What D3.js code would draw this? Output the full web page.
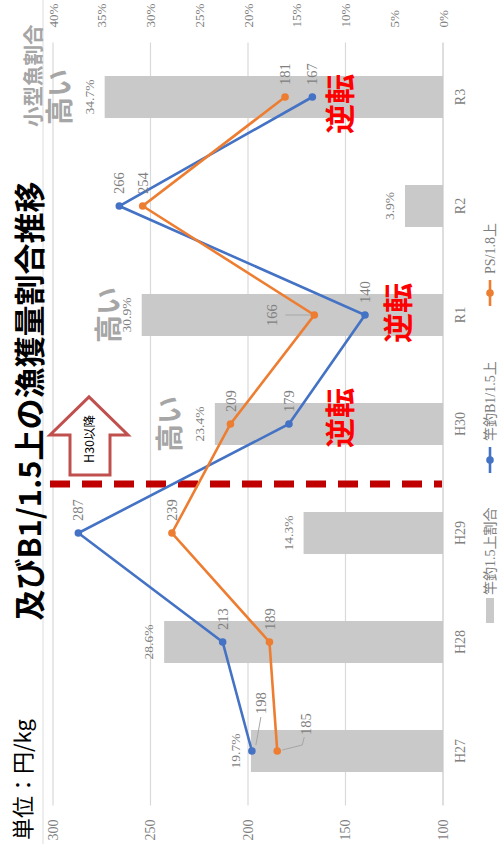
<!DOCTYPE html>
<html><head><meta charset="utf-8">
<script src="https://cdn.jsdelivr.net/npm/d3@7/dist/d3.min.js"></script>
<style>
html,body{margin:0;padding:0;background:#fff;}
svg{display:block;}
</style></head>
<body>
<script>
// ---- data ----
const categories = ["H27","H28","H29","H30","R1","R2","R3"];
const priceB1 = [198,213,287,179,140,266,167];     // 竿釣B1/1.5上 (円/kg)
const pricePS = [185,189,239,209,166,254,181];     // PS/1.8上 (円/kg)
const shareSmall = [19.7,28.6,14.3,23.4,30.9,3.9,34.7]; // 竿釣1.5上割合 (%)
const leftTicks = [100,150,200,250,300];
const rightTicks = [0,5,10,15,20,25,30,35,40];
const seriesNames = ["竿釣1.5上割合","竿釣B1/1.5上","PS/1.8上"];
const title = "及びB1/1.5上の漁獲量割合推移";
const unitLabel = "単位：円/kg";
const rightTitle = "小型魚割合";
const highCats = ["R3","R1","H30"];
const reverseCats = ["R3","R1","H30"];
const arrowText = "H30以降";

// ---- layout (landscape, then rotated) ----
const W = 854, H = 502;
const SERIF = "'Liberation Serif','Noto Sans CJK JP',serif";
const SANS = "'Noto Sans CJK JP','Noto Sans',sans-serif";
const BLUE = "#4472c4", ORANGE = "#ed7d31", BAR = "#c9c9c9", GRID = "#d9d9d9", TXT = "#7f7f7f";

const svg = d3.select("body").append("svg").attr("width",502).attr("height",854);
const g = svg.append("g").attr("transform",`translate(0,${W}) rotate(-90)`);

const x = d3.scaleBand().domain(categories).range([48.5,811.5]).paddingInner(0.615).paddingOuter(0.3075);
const yL = d3.scaleLinear().domain([100,300]).range([443,53]);
const yR = d3.scaleLinear().domain([0,40]).range([443,53]);
const cx = c => x(c) + x.bandwidth()/2;

// separator line
g.append("line").attr("x1",10).attr("x2",W).attr("y1",43).attr("y2",43).attr("stroke","#dcdcdc").attr("stroke-width",1);

// gridlines
g.append("g").selectAll("line").data(leftTicks.filter(d=>d>100)).join("line")
  .attr("x1",x.range()[0]).attr("x2",x.range()[1])
  .attr("y1",d=>yL(d)).attr("y2",d=>yL(d))
  .attr("stroke",GRID).attr("stroke-width",1.2);

// bars
g.append("g").selectAll("rect").data(categories).join("rect")
  .attr("x",d=>x(d)).attr("width",x.bandwidth())
  .attr("y",(d,i)=>yR(shareSmall[i])).attr("height",(d,i)=>yR(0)-yR(shareSmall[i]))
  .attr("fill",BAR);

// bottom axis line
g.append("line").attr("x1",x.range()[0]).attr("x2",x.range()[1]).attr("y1",yL(100)).attr("y2",yL(100))
  .attr("stroke","#c8c8c8").attr("stroke-width",1.2);

// axes
const axL = g.append("g").attr("transform",`translate(${x.range()[0]},0)`)
  .call(d3.axisLeft(yL).tickValues(leftTicks).tickSize(0).tickPadding(14));
const axR = g.append("g").attr("transform",`translate(${x.range()[1]},0)`)
  .call(d3.axisRight(yR).tickValues(rightTicks).tickSize(0).tickPadding(15).tickFormat(d=>d+"%"));
const axB = g.append("g").attr("transform",`translate(0,${yL(100)})`)
  .call(d3.axisBottom(x).tickSize(0).tickPadding(12));
[axL,axR,axB].forEach(a=>{
  a.select(".domain").remove();
  a.selectAll("text").attr("font-family",SERIF).attr("font-size",14).attr("fill",TXT);
});
axR.selectAll("text").attr("font-size",13);

// bar labels
g.append("g").selectAll("text").data(categories).join("text")
  .attr("x",d=>cx(d)).attr("y",(d,i)=>yR(shareSmall[i])-11)
  .attr("text-anchor","middle").attr("font-family",SERIF).attr("font-size",13.5).attr("fill",TXT)
  .text((d,i)=>shareSmall[i].toFixed(1)+"%");

// red dashed separator between H29 and H30
const sepX = cx("H29") + x.step()*0.45;
g.append("line").attr("x1",sepX).attr("x2",sepX).attr("y1",50).attr("y2",442)
  .attr("stroke","#c00000").attr("stroke-width",7).attr("stroke-dasharray","20,12");

// arrow "H30以降"
{
  const ax0 = sepX + 9, axHead = ax0 + 40, axTip = ax0 + 78;
  const s0 = 70, s1 = 110, h0 = 50, h1 = 128;
  const pts = [[ax0,s0],[axHead,s0],[axHead,h0],[axTip,(h0+h1)/2],[axHead,h1],[axHead,s1],[ax0,s1]];
  g.append("path").attr("d","M"+pts.map(p=>p.join(",")).join("L")+"Z")
    .attr("fill","#fff").attr("stroke","#c0504d").attr("stroke-width",3).attr("stroke-linejoin","miter");
  g.append("text").attr("x",ax0+36).attr("y",(s0+s1)/2).attr("dy","0.35em")
    .attr("text-anchor","middle").attr("font-family",SANS).attr("font-size",12.5).attr("fill","#000")
    .text(arrowText);
}

// lines
const series = [
  {name:"B1", vals:priceB1, color:BLUE},
  {name:"PS", vals:pricePS, color:ORANGE}
];
const line = d3.line().x(d=>cx(d.c)).y(d=>yL(d.v));
series.forEach(s=>{
  const pts = categories.map((c,i)=>({c, v:s.vals[i]}));
  g.append("path").datum(pts).attr("d",line).attr("fill","none").attr("stroke",s.color).attr("stroke-width",2.6);
  g.append("g").selectAll("circle").data(pts).join("circle")
    .attr("cx",d=>cx(d.c)).attr("cy",d=>yL(d.v)).attr("r",3.8).attr("fill",s.color);
});

// point labels
const labelPlace = {
  "B1-H27": {dx:37, dy:9, leader:"a"},
  "PS-H27": {dx:16, dy:29, leader:"b"},
  "PS-R1":  {dx:0, dy:-42, anchor:"middle", leader:"c"}
};
const lblG = g.append("g");
series.forEach(s=>{
  categories.forEach((c,i)=>{
    const px = cx(c), py = yL(s.vals[i]);
    const p = labelPlace[s.name+"-"+c] || {dx:12, dy:0};
    const lx = px + p.dx, ly = py + p.dy;
    lblG.append("text").attr("x",lx).attr("y",ly).attr("dy","0.35em")
      .attr("text-anchor",p.anchor||"start").attr("font-family",SERIF).attr("font-size",14.5).attr("fill",TXT)
      .text(s.vals[i]);
    let lp = null;
    if (p.leader==="a") lp = [[lx-3,ly],[px+6,py+4]];
    if (p.leader==="b") lp = [[lx-2,ly-2],[px+6,ly-4],[px+1,py+5]];
    if (p.leader==="c") lp = [[px,ly+13],[px,py-4]];
    if (lp) lblG.append("polyline").attr("points",lp.map(q=>q.join(",")).join(" "))
      .attr("fill","none").attr("stroke","#a6a6a6").attr("stroke-width",1);
  });
});

// annotations 高い
const highPlace = {"R3":{dy:60},"R1":{dy:109},"H30":{dy:170}};
g.append("g").selectAll("text").data(highCats).join("text")
  .attr("x",d=>cx(d)).attr("y",d=>highPlace[d].dy).attr("dy","0.36em")
  .attr("text-anchor","middle").attr("font-family",SANS).attr("font-weight",700)
  .attr("font-size",28).attr("fill","#a6a6a6").text("高い");

// annotations 逆転
const revPlace = {"R3":{dx:-7,dy:340},"R1":{dx:2,dy:398},"H30":{dx:6,dy:340}};
g.append("g").selectAll("text").data(reverseCats).join("text")
  .attr("x",d=>cx(d)+revPlace[d].dx).attr("y",d=>revPlace[d].dy).attr("dy","0.36em")
  .attr("text-anchor","middle").attr("font-family",SANS).attr("font-weight",700)
  .attr("font-size",30).attr("fill","#ff0000").text("逆転");

// titles
g.append("text").attr("x",453).attr("y",41).attr("text-anchor","middle")
  .attr("font-family",SANS).attr("font-weight",700).attr("font-size",31).attr("fill","#000").text(title);
g.append("text").attr("x",14).attr("y",31)
  .attr("font-family",SANS).attr("font-size",22).attr("fill","#000").text(unitLabel);
g.append("text").attr("x",727).attr("y",41)
  .attr("font-family",SANS).attr("font-weight",700).attr("font-size",20.5).attr("fill","#a6a6a6").text(rightTitle);

// legend
const lg = g.append("g").attr("font-family",SERIF).attr("font-size",14).attr("fill",TXT);
lg.append("rect").attr("x",231).attr("y",486).attr("width",25).attr("height",8).attr("fill",BAR);
lg.append("text").attr("x",259).attr("y",490).attr("dy","0.35em").text(seriesNames[0]);
[[381,BLUE,seriesNames[1]],[548,ORANGE,seriesNames[2]]].forEach(([lx,col,name])=>{
  lg.append("line").attr("x1",lx).attr("x2",lx+26).attr("y1",490).attr("y2",490).attr("stroke",col).attr("stroke-width",2.6);
  lg.append("circle").attr("cx",lx+13).attr("cy",490).attr("r",3.8).attr("fill",col);
  lg.append("text").attr("x",lx+32).attr("y",490).attr("dy","0.35em").text(name);
});
</script>
</body></html>
